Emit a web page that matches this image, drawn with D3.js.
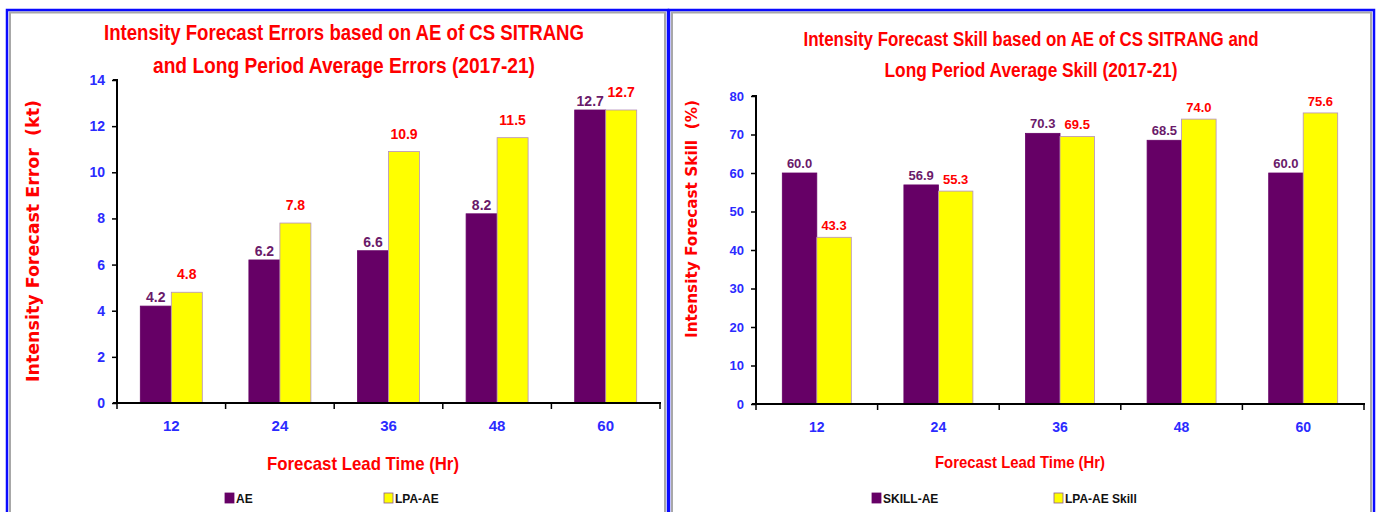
<!DOCTYPE html>
<html>
<head>
<meta charset="utf-8">
<script src="https://cdn.jsdelivr.net/npm/d3@7"></script>
<style>
  html, body { margin: 0; padding: 0; background: #fff; }
  svg { display: block; }
  .cond { font-family: "Liberation Sans Narrow", "Arial Narrow", "Liberation Sans", sans-serif; font-weight: bold; }
  .wide { font-family: "DejaVu Sans", Verdana, sans-serif; font-weight: bold; }
</style>
</head>
<body>
<svg id="chart" width="1378" height="512"></svg>
<script>
// Lead times (hours)
const leadTimes = ["12", "24", "36", "48", "60"];

// Intensity forecast errors (kt)
const errorAE = [4.2, 6.2, 6.6, 8.2, 12.7];
const errorLPA = [4.8, 7.8, 10.9, 11.5, 12.7];
const errorTicks = [0, 2, 4, 6, 8, 10, 12, 14];

// Intensity forecast skill (%)
const skillAE = [60.0, 56.9, 70.3, 68.5, 60.0];
const skillLPA = [43.3, 55.3, 69.5, 74.0, 75.6];
const skillTicks = [0, 10, 20, 30, 40, 50, 60, 70, 80];

const PURPLE = "#660066", YELLOW = "#ffff00", RED = "#ff0000", BLUE = "#2b2bff";

const svg = d3.select("#chart");

function panel(cfg) {
  const g = svg.append("g");

  // panel frame: grey inner line, blue outer line
  g.append("rect")
    .attr("x", cfg.frame[0] + 3).attr("y", cfg.frame[1] + 2.5)
    .attr("width", cfg.frame[2] - cfg.frame[0] - 6).attr("height", 600)
    .attr("fill", "none").attr("stroke", "#a8a8a8").attr("stroke-width", 2);
  g.append("rect")
    .attr("x", cfg.frame[0]).attr("y", cfg.frame[1])
    .attr("width", cfg.frame[2] - cfg.frame[0]).attr("height", 600)
    .attr("fill", "none").attr("stroke", "#0a0aff").attr("stroke-width", 2.5);

  const x = d3.scaleBand().domain(leadTimes).range([cfg.x0, cfg.x1]).paddingInner(0).paddingOuter(0);
  const y = d3.scaleLinear().domain([0, cfg.ymax]).range([cfg.y0, cfg.y1]);
  const bw = cfg.barW;

  const rows = leadTimes.map((t, i) => ({ t, a: cfg.a[i], b: cfg.b[i] }));

  // bars
  const grp = g.selectAll("g.cat").data(rows).join("g")
    .attr("transform", d => `translate(${x(d.t) + x.bandwidth() / 2},0)`);
  grp.append("rect")
    .attr("x", -bw).attr("width", bw)
    .attr("y", d => y(d.a)).attr("height", d => y(0) - y(d.a))
    .attr("fill", PURPLE).attr("stroke", PURPLE).attr("stroke-width", 0.8);
  grp.append("rect")
    .attr("x", 0).attr("width", bw)
    .attr("y", d => y(d.b)).attr("height", d => y(0) - y(d.b))
    .attr("fill", YELLOW).attr("stroke", "#b58fc0").attr("stroke-width", 0.8);

  // value labels
  grp.append("text").attr("class", "cond")
    .attr("x", -bw / 2).attr("y", d => y(d.a) - cfg.offA)
    .attr("text-anchor", "middle").attr("font-size", cfg.valSize).attr("fill", "#6a1a6a")
    .text(d => d.a.toFixed(1));
  grp.append("text").attr("class", "cond")
    .attr("x", bw / 2).attr("y", d => y(d.b) - cfg.offB)
    .attr("text-anchor", "middle").attr("font-size", cfg.valSize).attr("fill", RED)
    .text(d => d.b.toFixed(1));

  // y axis
  const ya = g.append("g").attr("transform", `translate(${cfg.x0},0)`)
    .call(d3.axisLeft(y).tickValues(cfg.ticks).tickSize(5).tickPadding(7).tickFormat(d3.format("d")));
  ya.select(".domain").attr("stroke", "#000").attr("stroke-width", 2).attr("d", `M-4,${cfg.y1}H0V${cfg.y0}`);
  ya.selectAll(".tick line").attr("stroke", "#000").attr("stroke-width", 1.5);
  ya.selectAll(".tick text").attr("class", "cond").attr("font-size", cfg.tickSize).attr("fill", BLUE);

  // x axis with boundary ticks
  const xa = g.append("g").attr("transform", `translate(0,${cfg.y0})`);
  xa.append("line").attr("x1", cfg.x0 - 4).attr("x2", cfg.x1 + 1)
    .attr("stroke", "#000").attr("stroke-width", 2);
  const bounds = leadTimes.map(t => x(t)).concat([cfg.x1]);
  xa.selectAll("line.b").data(bounds).join("line").attr("class", "b")
    .attr("x1", d => d).attr("x2", d => d).attr("y1", 0).attr("y2", 6)
    .attr("stroke", "#000").attr("stroke-width", 1.5);
  xa.selectAll("text").data(leadTimes).join("text").attr("class", "cond")
    .attr("x", d => x(d) + x.bandwidth() / 2).attr("y", 28)
    .attr("text-anchor", "middle").attr("font-size", cfg.tickSize + 1).attr("fill", BLUE)
    .text(d => d);

  // titles
  cfg.title.forEach((line, i) => {
    g.append("text").attr("class", "cond")
      .attr("x", cfg.titleX).attr("y", cfg.titleY[i])
      .attr("text-anchor", "middle").attr("font-size", cfg.titleSize).attr("fill", RED)
      .attr("textLength", cfg.titleW[i]).attr("lengthAdjust", "spacingAndGlyphs")
      .text(line);
  });
  g.append("text").attr("class", "cond")
    .attr("x", cfg.xTitleX).attr("y", cfg.xTitleY)
    .attr("text-anchor", "middle").attr("font-size", cfg.xTitleSize).attr("fill", RED)
    .attr("textLength", cfg.xTitleW).attr("lengthAdjust", "spacingAndGlyphs")
    .text("Forecast Lead Time (Hr)");
  g.append("text").attr("class", "wide")
    .attr("transform", `translate(${cfg.yTitleX},${cfg.yTitleY}) rotate(-90)`)
    .attr("text-anchor", "middle").attr("font-size", cfg.yTitleSize).attr("fill", RED)
    .attr("textLength", cfg.yTitleW).attr("lengthAdjust", "spacingAndGlyphs")
    .style("white-space", "pre")
    .text(cfg.yTitle);

  // legend
  cfg.legend.forEach((item, i) => {
    const lx = cfg.legendX[i];
    g.append("rect").attr("x", lx).attr("y", cfg.legendY - 5).attr("width", 9).attr("height", 10)
      .attr("fill", item.color).attr("stroke", i === 0 ? PURPLE : "#8a5c95").attr("stroke-width", 0.8);
    g.append("text").attr("class", "cond")
      .attr("x", lx + 11).attr("y", cfg.legendY + 4.5)
      .attr("font-size", 12).attr("fill", "#111")
      .text(item.label);
  });
}

panel({
  frame: [7, 10, 668],
  x0: 117, x1: 660, y0: 403, y1: 80, ymax: 14, barW: 31,
  a: errorAE, b: errorLPA, ticks: errorTicks,
  offA: 4, offB: 13, valSize: 14, tickSize: 14,
  title: ["Intensity Forecast Errors based on AE of CS SITRANG", "and Long Period Average Errors (2017-21)"],
  titleX: 344, titleY: [40, 73], titleW: [480, 382], titleSize: 22,
  xTitleX: 363, xTitleY: 470, xTitleW: 192, xTitleSize: 19,
  yTitle: "Intensity Forecast Error  (kt)", yTitleX: 39, yTitleY: 241, yTitleW: 282, yTitleSize: 17,
  legend: [{ label: "AE", color: PURPLE }, { label: "LPA-AE", color: YELLOW }],
  legendX: [225, 384], legendY: 498
});

panel({
  frame: [669, 10, 1374],
  x0: 756, x1: 1364, y0: 404, y1: 96, ymax: 80, barW: 34.5,
  a: skillAE, b: skillLPA, ticks: skillTicks,
  offA: 5, offB: 7, valSize: 13, tickSize: 13,
  title: ["Intensity Forecast  Skill based on AE of  CS SITRANG and", "Long Period Average Skill (2017-21)"],
  titleX: 1031, titleY: [46, 77], titleW: [455, 293], titleSize: 20,
  xTitleX: 1020, xTitleY: 468, xTitleW: 170, xTitleSize: 17,
  yTitle: "Intensity Forecast Skill  (%)", yTitleX: 697, yTitleY: 219, yTitleW: 238, yTitleSize: 15,
  legend: [{ label: "SKILL-AE", color: PURPLE }, { label: "LPA-AE Skill", color: YELLOW }],
  legendX: [872, 1054], legendY: 498
});
</script>
</body>
</html>
